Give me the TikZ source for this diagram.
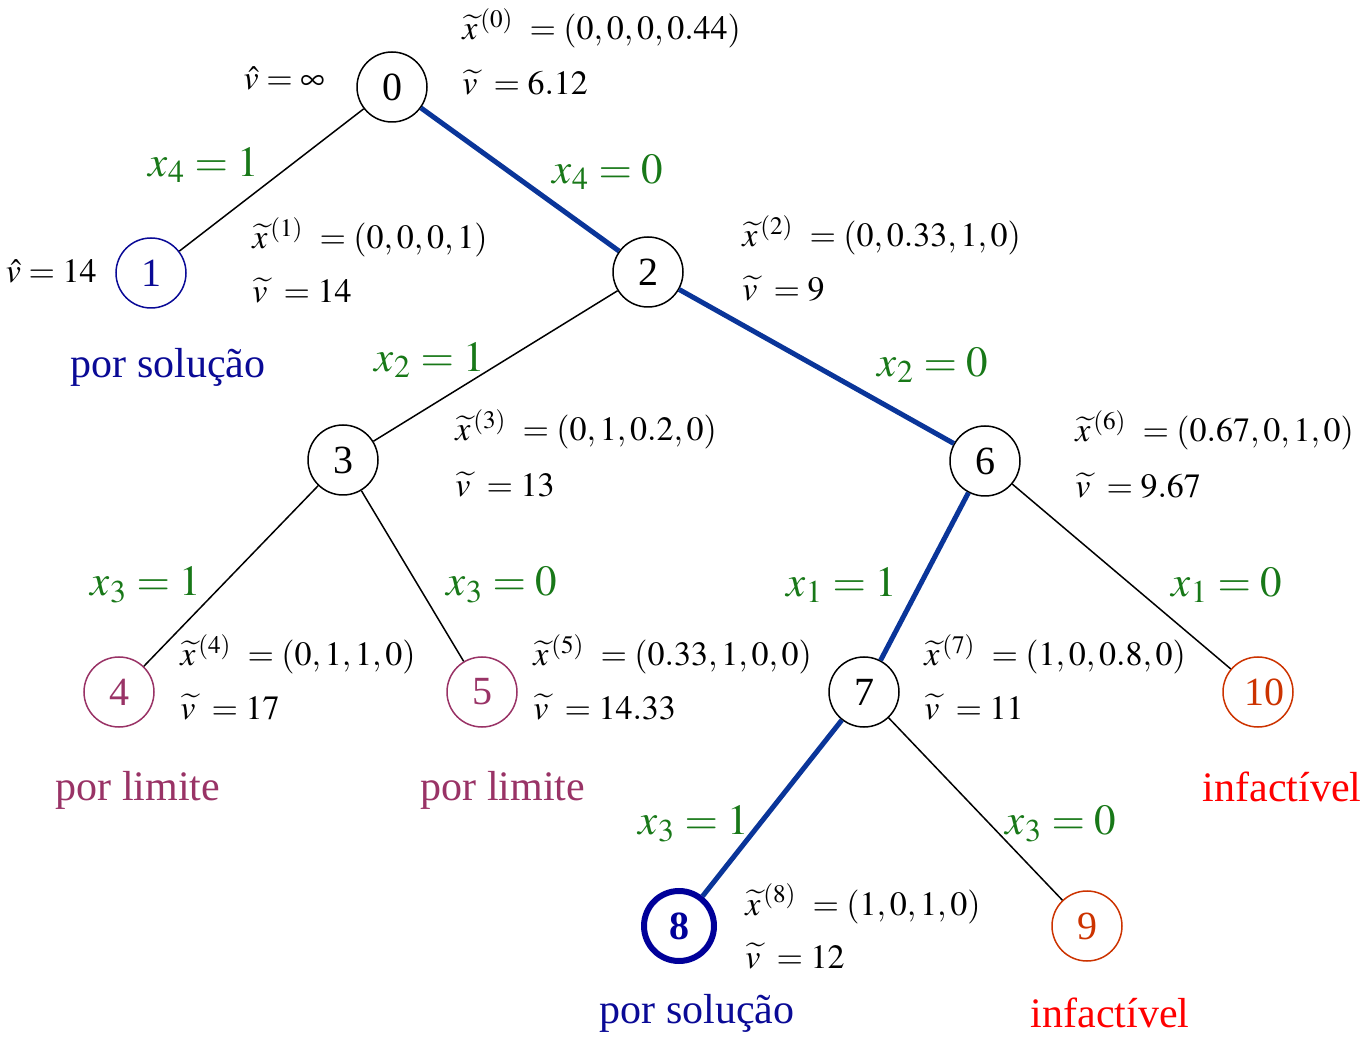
\documentclass[tikz,border=0pt]{standalone}
\usepackage{mathptmx}
\usepackage{fontspec}
\setmainfont{Liberation Serif}
\definecolor{nblue}{HTML}{0A0A96}
\definecolor{eblue}{HTML}{0A3599}
\definecolor{dblue}{HTML}{000099}
\definecolor{purp}{HTML}{993366}
\definecolor{orng}{HTML}{CC3300}
\definecolor{lgreen}{HTML}{187818}
\definecolor{rred}{HTML}{FF0000}
\begin{document}
\begin{tikzpicture}[x=0.5pt,y=-0.5pt,
 nd/.style={circle,draw,line width=0.75pt,minimum size=35pt,inner sep=0pt,font=\fontsize{20}{22}\selectfont},
 info/.style={anchor=base west,inner sep=0pt,font=\fontsize{17}{19}\selectfont},
 lab/.style={text=lgreen,inner sep=0pt,font=\fontsize{21.5}{24}\selectfont},
 stat/.style={inner sep=0pt,font=\fontsize{21}{24}\selectfont},
 weak/.style={line width=0.75pt},
 strong/.style={line width=2.5pt,draw=eblue}]
\useasboundingbox (0,0) rectangle (1367,1037);
% nodes
\node[nd] (n0) at (392,87) {0};
\node[nd,draw=nblue,text=nblue] (n1) at (151,273) {1};
\node[nd] (n2) at (648,272) {2};
\node[nd] (n3) at (343,460) {3};
\node[nd] (n6) at (985,461) {6};
\node[nd,draw=purp,text=purp] (n4) at (119,692) {4};
\node[nd,draw=purp,text=purp] (n5) at (482,692) {5};
\node[nd] (n7) at (864,692) {7};
\node[nd,draw=orng,text=orng] (n10) at (1258,692) {\hspace*{6pt}10};
\node[nd,draw=dblue,text=dblue,line width=3pt] (n8) at (679,926) {\textbf{8}};
\node[nd,draw=orng,text=orng] (n9) at (1087,926) {9};
% edges
\draw[weak] (n0) -- (n1);
\draw[strong] (n0) -- (n2);
\draw[weak] (n2) -- (n3);
\draw[strong] (n2) -- (n6);
\draw[weak] (n3) -- (n4);
\draw[weak] (n3) -- (n5);
\draw[strong] (n6) -- (n7);
\draw[weak] (n6) -- (n10);
\draw[strong] (n7) -- (n8);
\draw[weak] (n7) -- (n9);
% edge labels
\node[lab] (l01) at (204,165) {$x_4 = 1$};
\node[lab] (l02) at (608,172) {$x_4 = 0$};
\node[lab] (l23) at (430,360) {$x_2 = 1$};
\node[lab] (l26) at (933,365) {$x_2 = 0$};
\node[lab] (l34) at (146,585) {$x_3 = 1$};
\node[lab] (l35) at (502,585) {$x_3 = 0$};
\node[lab] (l67) at (842,585) {$x_1 = 1$};
\node[lab] (l610) at (1227,585) {$x_1 = 0$};
\node[lab] (l78) at (694,824) {$x_3 = 1$};
\node[lab] (l79) at (1061,824) {$x_3 = 0$};
% info blocks
\node[info] (i0a) at (462,40) {$\widetilde{x}^{\,(0)}\ = (0,0,0,0.44)$};
\node[info] (i0b) at (462,95) {$\widetilde{v}\ = 6.12$};
\node[info] (i1a) at (252,249) {$\widetilde{x}^{\,(1)}\ = (0,0,0,1)$};
\node[info] (i1b) at (252,303) {$\widetilde{v}\ = 14$};
\node[info] (i2a) at (742,247) {$\widetilde{x}^{\,(2)}\ = (0,0.33,1,0)$};
\node[info] (i2b) at (742,301) {$\widetilde{v}\ = 9$};
\node[info] (i3a) at (455,441) {$\widetilde{x}^{\,(3)}\ = (0,1,0.2,0)$};
\node[info] (i3b) at (455,497) {$\widetilde{v}\ = 13$};
\node[info] (i6a) at (1075,442) {$\widetilde{x}^{\,(6)}\ = (0.67,0,1,0)$};
\node[info] (i6b) at (1075,498) {$\widetilde{v}\ = 9.67$};
\node[info] (i4a) at (180,666) {$\widetilde{x}^{\,(4)}\ = (0,1,1,0)$};
\node[info] (i4b) at (180,719) {$\widetilde{v}\ = 17$};
\node[info] (i5a) at (533,666) {$\widetilde{x}^{\,(5)}\ = (0.33,1,0,0)$};
\node[info] (i5b) at (533,719) {$\widetilde{v}\ = 14.33$};
\node[info] (i7a) at (924,666) {$\widetilde{x}^{\,(7)}\ = (1,0,0.8,0)$};
\node[info] (i7b) at (924,719) {$\widetilde{v}\ = 11$};
\node[info] (i8a) at (745,915) {$\widetilde{x}^{\,(8)}\ = (1,0,1,0)$};
\node[info] (i8b) at (745,968) {$\widetilde{v}\ = 12$};
\node[info,anchor=base east] (h0) at (325,90) {$\hat{v} = \infty$};
\node[info,anchor=base east] (h1) at (97,283) {$\hat{v} = 14$};
% status
\node[stat,text=nblue] (s1) at (168,367) {por solução};
\node[stat,text=purp] (s4) at (138,790) {por limite};
\node[stat,text=purp] (s5) at (503,790) {por limite};
\node[stat,text=rred] (s10) at (1282,787) {infactível};
\node[stat,text=nblue] (s8) at (697,1013) {por solução};
\node[stat,text=rred] (s9) at (1110,1013) {infactível};
\end{tikzpicture}
\end{document}
